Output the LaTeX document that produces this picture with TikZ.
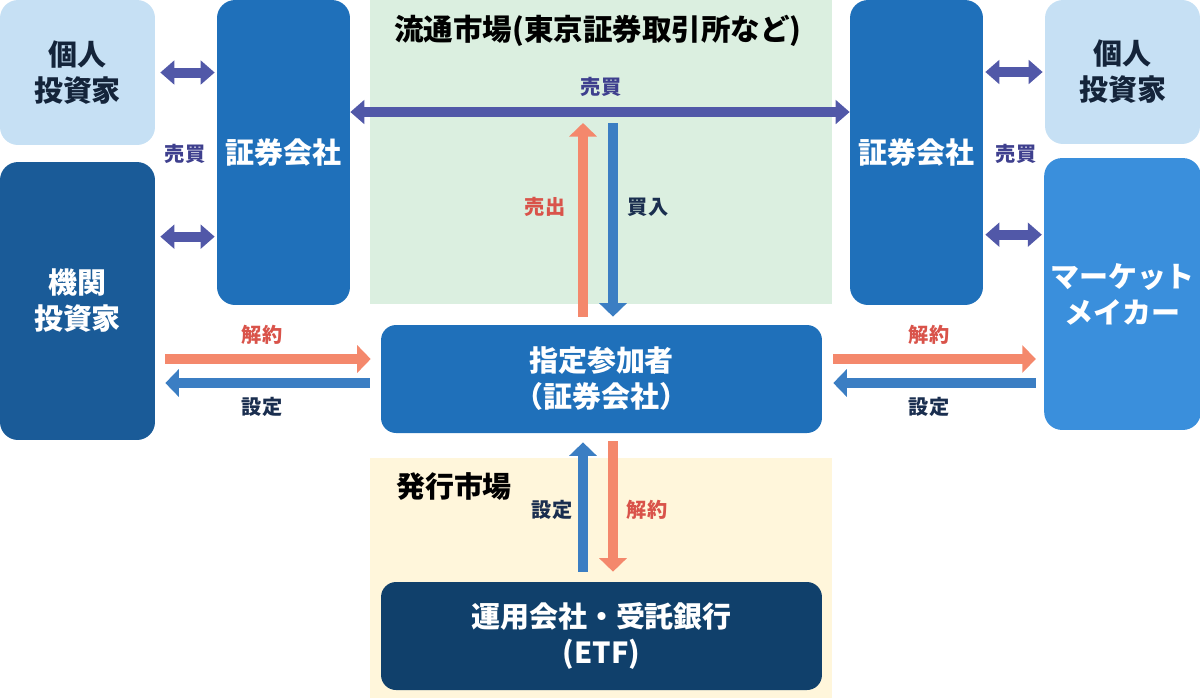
\documentclass[tikz,border=0pt]{standalone}
\usepackage{fontspec}
\setmainfont{Noto Sans CJK JP}
\usetikzlibrary{arrows.meta}

\definecolor{lightinv}{HTML}{C6E0F4}
\definecolor{instblue}{HTML}{1A5B98}
\definecolor{secblue}{HTML}{1F70BA}
\definecolor{mmblue}{HTML}{3A8FDC}
\definecolor{etfnavy}{HTML}{10406B}
\definecolor{mktgreen}{HTML}{DBEFE0}
\definecolor{mktyellow}{HTML}{FFF6DB}
\definecolor{tradeviolet}{HTML}{5158A8}
\definecolor{cancelorange}{HTML}{F4886C}
\definecolor{createblue}{HTML}{3B7EC3}
\definecolor{tradetext}{HTML}{3E3F8E}
\definecolor{canceltext}{HTML}{D9534A}
\definecolor{createtext}{HTML}{1A2E4F}
\definecolor{darktext}{HTML}{14243A}

\begin{document}
\begin{tikzpicture}[x=0.02cm, y=-0.02cm,
	box/.style={rounded corners=0.36cm, text=white, align=center,
		font=\bfseries\fontsize{16.5}{20.5}\selectfont},
	lbl/.style={font=\bfseries\fontsize{11.5}{14}\selectfont},
	trade/.style={line width=0.2cm, draw=tradeviolet,
		{Triangle[length=0.28cm,width=0.47cm]}-{Triangle[length=0.28cm,width=0.47cm]}},
	cancel/.style={line width=0.21cm, draw=cancelorange,
		-{Triangle[length=0.27cm,width=0.54cm]}},
	create/.style={line width=0.21cm, draw=createblue,
		-{Triangle[length=0.27cm,width=0.54cm]}}
	]
	\useasboundingbox (0,0) rectangle (1200,698);
	\fill[mktgreen] (370,0) rectangle (832,304);
	\fill[mktyellow] (370,458) rectangle (832,698);

	\node[box, fill=lightinv, text=darktext, minimum width=3.1cm, minimum height=2.9cm] (inv1) at (77.5,72.5) {個人\\投資家};
	\node[box, fill=instblue, minimum width=3.1cm, minimum height=5.56cm] (inst) at (77.5,301) {機関\\投資家};
	\node[box, fill=secblue, minimum width=2.66cm, minimum height=6.1cm] (sec1) at (283.5,152.5) {証券会社};
	\node[box, fill=secblue, minimum width=2.66cm, minimum height=6.1cm] (sec2) at (916.5,152.5) {証券会社};
	\node[box, fill=lightinv, text=darktext, minimum width=3.1cm, minimum height=2.88cm] (inv2) at (1122.5,72) {個人\\投資家};
	\node[box, fill=mmblue, minimum width=3.1cm, minimum height=5.44cm] (mm) at (1122.5,294) {マーケット\\メイカー};
	\node[box, fill=secblue, rounded corners=0.3cm, minimum width=8.82cm, minimum height=2.16cm] (ap) at (601.5,379) {指定参加者\\（証券会社）};
	\node[box, fill=etfnavy, rounded corners=0.3cm, minimum width=8.82cm, minimum height=2.16cm] (etf) at (601.5,636) {運用会社・受託銀行\\(ETF)};

	\node[font=\bfseries\fontsize{16.8}{19}\selectfont] (sec2nd) at (598,31) {流通市場(東京証券取引所など)};
	\node[font=\bfseries\fontsize{16.5}{19}\selectfont] (prim) at (454,486) {発行市場};

	\coordinate (mk) at ([yshift=0.81cm]sec1.east);
	\coordinate (ls) at ([yshift=-1.5cm]inst.north east);
	\coordinate (rs) at ([yshift=-1.54cm]mm.north west);
	\coordinate (apL1) at ([yshift=0.4cm]ap.west);
	\coordinate (apL2) at ([yshift=-0.08cm]ap.west);
	\coordinate (apR1) at ([yshift=0.4cm]ap.east);
	\coordinate (apR2) at ([yshift=-0.08cm]ap.east);
	\coordinate (apN1) at ([xshift=-0.37cm]ap.north);
	\coordinate (apN2) at ([xshift=0.23cm]ap.north);
	\coordinate (apS1) at ([xshift=-0.37cm]ap.south);
	\coordinate (apS2) at ([xshift=0.23cm]ap.south);

	\draw[trade] (mk) -- (mk -| sec2.west);
	\draw[trade, shorten <=0.1cm, shorten >=0.04cm] (inv1.east) -- (inv1.east -| sec1.west);
	\draw[trade, shorten <=0.1cm, shorten >=0.04cm] (ls) -- (ls -| sec1.west);
	\draw[trade, shorten <=0.04cm, shorten >=0.04cm] (inv2.west -| sec2.east) -- (inv2.west);
	\draw[trade, shorten <=0.04cm, shorten >=0.04cm] (rs -| sec2.east) -- (rs);

	\draw[cancel, shorten <=0.2cm, shorten >=0.2cm] (apL1 -| inst.east) -- (apL1);
	\draw[create, shorten <=0.22cm, shorten >=0.2cm] (apL2) -- (apL2 -| inst.east);
	\draw[cancel, shorten <=0.22cm, shorten >=0.16cm] (apR1) -- (apR1 -| mm.west);
	\draw[create, shorten <=0.16cm, shorten >=0.22cm] (apR2 -| mm.west) -- (apR2);

	\draw[cancel, shorten <=0.16cm, shorten >=0.22cm] (apN1) -- (apN1 |- mk);
	\draw[create, shorten <=0.22cm, shorten >=0.16cm] (apN2 |- mk) -- (apN2);
	\draw[create, shorten <=0.2cm, shorten >=0.18cm] (etf.north -| apS1) -- (apS1);
	\draw[cancel, shorten <=0.16cm, shorten >=0.2cm] (apS2) -- (etf.north -| apS2);

	\node[lbl, text=tradetext] (t1) at (601,87) {売買};
	\node[lbl, text=tradetext] (t2) at (185,154) {売買};
	\node[lbl, text=tradetext] (t3) at (1016,154) {売買};
	\node[lbl, text=canceltext] (s1) at (545,207) {売出};
	\node[lbl, text=createtext] (b1) at (648,207) {買入};
	\node[lbl, text=canceltext] (c1) at (262,335) {解約};
	\node[lbl, text=createtext] (d1) at (262,407) {設定};
	\node[lbl, text=canceltext] (c2) at (929,335) {解約};
	\node[lbl, text=createtext] (d2) at (929,407) {設定};
	\node[lbl, text=createtext] (d3) at (552,510) {設定};
	\node[lbl, text=canceltext] (c3) at (647,510) {解約};
\end{tikzpicture}
\end{document}
